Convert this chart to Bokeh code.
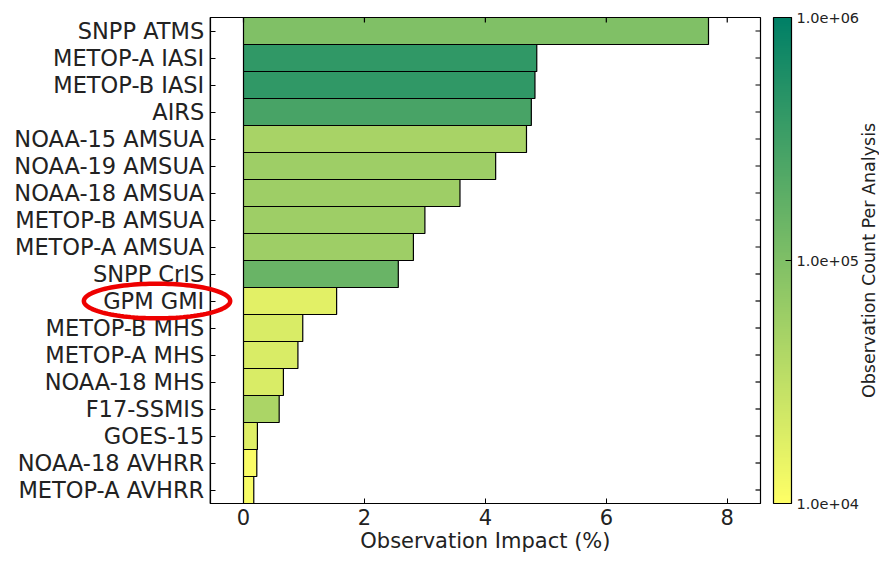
import math
from bokeh.plotting import figure
from bokeh.models import (ColumnDataSource, Range1d, LogColorMapper, ColorBar, FixedTicker,
                          CustomJSTickFormatter, PolyAnnotation, BoxAnnotation, Label)
from bokeh.transform import transform
from bokeh.embed import file_html
from bokeh.resources import INLINE

instruments = ["SNPP ATMS", "METOP-A IASI", "METOP-B IASI", "AIRS", "NOAA-15 AMSUA",
               "NOAA-19 AMSUA", "NOAA-18 AMSUA", "METOP-B AMSUA", "METOP-A AMSUA",
               "SNPP CrIS", "GPM GMI", "METOP-B MHS", "METOP-A MHS", "NOAA-18 MHS",
               "F17-SSMIS", "GOES-15", "NOAA-18 AVHRR", "METOP-A AVHRR"]
impact = [7.69, 4.85, 4.82, 4.76, 4.68, 4.17, 3.58, 3.00, 2.81, 2.56,
          1.54, 0.98, 0.90, 0.66, 0.59, 0.23, 0.22, 0.17]
counts = [1.0e5, 4.2e5, 4.2e5, 2.7e5, 4.8e4, 5.8e4, 5.8e4, 5.8e4, 5.8e4, 1.5e5,
          1.7e4, 2.0e4, 2.0e4, 2.0e4, 4.6e4, 1.8e4, 1.1e4, 1.15e4]
x_ticks = [0, 2, 4, 6, 8]
x_lo, x_hi = -0.55, 8.55
cbar_ticks = [1e4, 1e5, 1e6]
highlight = "GPM GMI"
x_title = "Observation Impact (%)"
cb_title = "Observation Count Per Analysis"

FONT = "DejaVu Sans"
TXT = "#222222"
W, H = 879, 553

# summer_r colormap
palette = []
for i in range(256):
    t = i / 255
    palette.append("#%02x%02x%02x" % (int(round((1 - t) * 255)),
                                        int(round((1 - t / 2) * 255)), 102))
mapper = LogColorMapper(palette=palette, low=1e4, high=1e6)

n = len(instruments)
ypos = [n - i - 0.5 for i in range(n)]          # row centres, first instrument on top
src = ColumnDataSource(dict(y=ypos, inst=instruments, impact=impact, count=counts))

# layout geometry (pixels)
ZERO_PX, RIGHT_PX = 243.0, 760.0        # x=0 and right edge of the axes box
TOP_PX, BOT_PX = 17.0, 503.0            # top / bottom of the axes box
CB_LEFT = 773
ppx = (RIGHT_PX - ZERO_PX) / x_hi
ppy = (BOT_PX - TOP_PX) / n
x_range = Range1d(-ZERO_PX / ppx, (W - ZERO_PX) / ppx)
y_range = Range1d(-(H - BOT_PX) / ppy, n + TOP_PX / ppy)

p = figure(width=W, height=H, x_range=x_range, y_range=y_range,
           output_backend="svg", toolbar_location=None,
           min_border=0)
p.grid.visible = False
p.outline_line_color = None

p.hbar(y="y", right="impact", left=0, height=1.0, source=src,
       fill_color=transform("count", mapper), line_color="black", line_width=1.2)

def style(ax, size):
    ax.major_tick_in = 5
    ax.major_tick_out = 0
    ax.minor_tick_line_color = None
    ax.axis_line_color = "black"
    ax.axis_line_width = 1.2
    ax.major_tick_line_color = "black"
    ax.major_label_text_font = FONT
    ax.major_label_text_color = TXT
    ax.major_label_text_font_size = size

xa = p.xaxis[0]
xa.ticker = FixedTicker(ticks=x_ticks)
xa.bounds = (x_lo, x_hi)
xa.fixed_location = 0
style(xa, "21px")
xa.major_label_standoff = 5

ya = p.yaxis[0]
ya.ticker = FixedTicker(ticks=ypos)
ya.formatter = CustomJSTickFormatter(args=dict(names=instruments),
                                     code="return names[Math.round(names.length - 0.5 - tick)];")
ya.bounds = (0, n)
ya.fixed_location = x_lo
style(ya, "22.5px")
ya.major_label_standoff = 6

# axes box (top and right sides) and inward ticks on top / right
p.add_layout(BoxAnnotation(left=x_lo, right=x_hi, bottom=0, top=n, fill_alpha=0,
                           line_color="black", line_alpha=1.0, line_width=1.2, level="overlay"))
p.ray(x=x_ticks, y=[n] * len(x_ticks), length=5, length_units="screen",
      angle=-math.pi / 2, line_color="black", line_width=1.2)
p.ray(x=[x_hi] * n, y=ypos, length=5, length_units="screen",
      angle=math.pi, line_color="black", line_width=1.2)

# x-axis title
p.add_layout(Label(x=(x_lo + x_hi) / 2, y=1, y_units="screen", text=x_title,
                   text_align="center", text_baseline="bottom",
                   text_font=FONT, text_font_size="21px", text_color=TXT))

# colour bar
cb = ColorBar(color_mapper=mapper, ticker=FixedTicker(ticks=cbar_ticks),
              formatter=CustomJSTickFormatter(code="return tick.toExponential(1).replace('e+', 'e+0');"),
              location=(CB_LEFT, H - BOT_PX), width=18, height=int(BOT_PX - TOP_PX),
              padding=0, margin=0, major_tick_in=6, major_tick_out=0,
              major_tick_line_color="black", minor_tick_line_color=None,
              bar_line_color="black", bar_line_width=1.2,
              background_fill_color=None, border_line_color=None,
              major_label_text_font=FONT, major_label_text_font_size="14.5px",
              major_label_text_color=TXT, label_standoff=5)
p.add_layout(cb)

p.add_layout(Label(x=868, y=H - (TOP_PX + BOT_PX) / 2, x_units="screen", y_units="screen",
                   text=cb_title, angle=math.pi / 2, text_align="center",
                   text_baseline="middle", text_font=FONT, text_font_size="17.5px",
                   text_color=TXT))

# red ellipse highlighting GPM GMI
yc = ypos[instruments.index(highlight)]
cx, rx, ry = -1.43, 1.21, 0.64
ex = [cx + rx * math.cos(2 * math.pi * k / 120) for k in range(120)]
ey = [yc + ry * math.sin(2 * math.pi * k / 120) for k in range(120)]
p.add_layout(PolyAnnotation(xs=ex, ys=ey, fill_alpha=0, line_color="#ee0000",
                            line_alpha=1.0, line_width=4.5, level="overlay"))

open("out.html", "w").write(file_html(p, INLINE))
